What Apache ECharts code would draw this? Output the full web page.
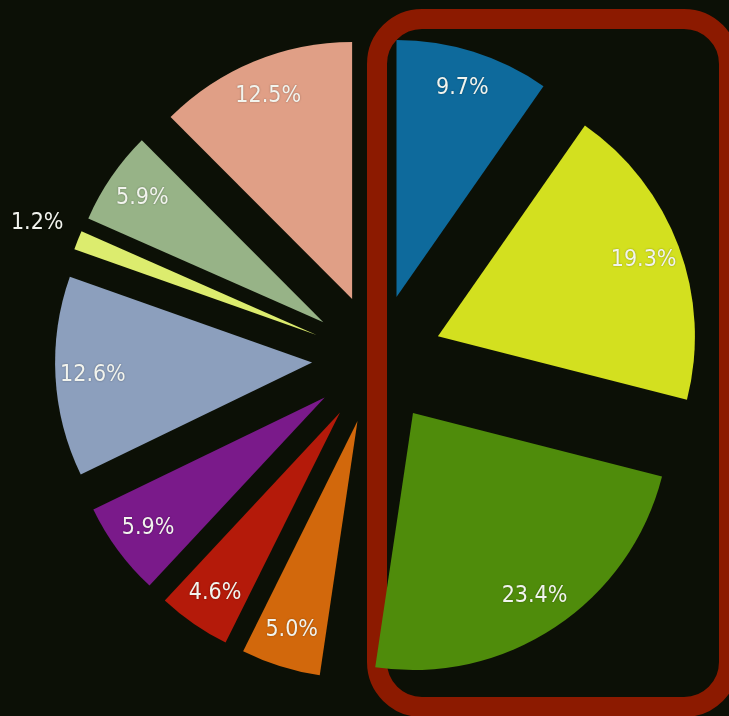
<!DOCTYPE html>
<html>
<head>
<meta charset="utf-8">
<script src="https://cdn.jsdelivr.net/npm/echarts@6/dist/echarts.min.js"></script>
<style>
  html, body { margin: 0; padding: 0; background: #0c1006; }
  #chart { width: 729px; height: 716px; }
</style>
</head>
<body>
<div id="chart"></div>
<script>
// 数据（从 12 点方向顺时针）
const shares = [9.7, 19.3, 23.4, 5.0, 4.6, 5.9, 12.6, 1.2, 5.9, 12.5]
const colors = ['#0e6a9c', '#d3e01f', '#4f8c0b', '#d2680c', '#b41a0a', '#7a1a8a',
  '#8c9fbd', '#dcec6e', '#97b387', '#e09f86']
const outsideLabel = [false, false, false, false, false, false, false, true, false, false]

const chart = echarts.init(document.getElementById('chart'))

const center = [377, 359]
const radius = 257
const offset = 65

const fmt = p => p.value.toFixed(1) + '%'

chart.setOption({
  backgroundColor: '#0c1006',
  graphic: [{
    type: 'rect',
    shape: { x: 377, y: 19, width: 352, height: 688, r: 45 },
    style: { fill: 'none', stroke: '#8c1a00', lineWidth: 20 },
    z: 0
  }],
  series: [
    // 扇区
    {
      type: 'pie',
      silent: true,
      z: 5,
      center: center,
      radius: [0, radius],
      startAngle: 90,
      clockwise: true,
      selectedMode: 'multiple',
      selectedOffset: offset,
      avoidLabelOverlap: false,
      label: { show: false },
      labelLine: { show: false },
      data: shares.map((v, i) => ({
        value: v,
        selected: true,
        itemStyle: { color: colors[i] }
      }))
    },
    // 标签
    {
      type: 'pie',
      silent: true,
      z: 6,
      center: center,
      radius: [176, radius],
      startAngle: 90,
      clockwise: true,
      selectedMode: 'multiple',
      selectedOffset: offset,
      avoidLabelOverlap: false,
      itemStyle: { color: 'rgba(0,0,0,0)' },
      label: {
        show: true,
        position: 'inside',
        formatter: fmt,
        color: '#f2f4ee',
        fontFamily: "'DejaVu Sans Condensed', 'DejaVu Sans'",
        fontSize: 23,
        textShadowColor: 'rgba(0,0,0,0.35)',
        textShadowBlur: 2
      },
      labelLine: { show: false },
      data: shares.map((v, i) => {
        const d = { value: v, selected: true }
        if (outsideLabel[i]) {
          // 外部标签：加一个空行把文字往上推
          d.label = { position: 'outside', formatter: p => fmt(p) + '\n ', lineHeight: 26 }
          d.labelLine = { show: false, length: 10, length2: 0 }
        }
        return d
      })
    }
  ]
})
</script>
</body>
</html>
